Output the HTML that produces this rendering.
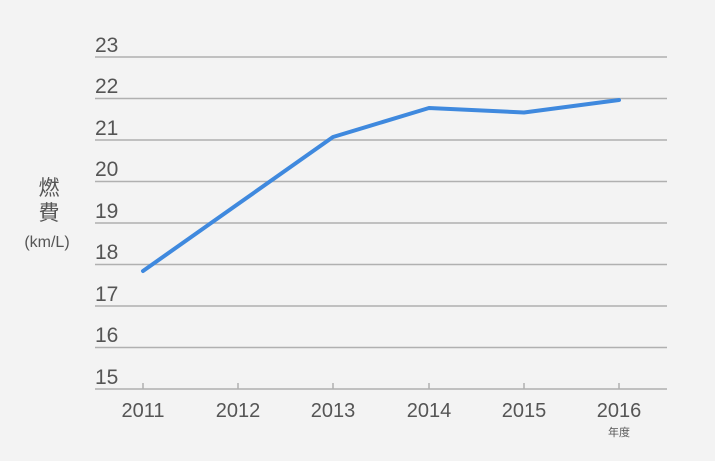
<!DOCTYPE html><html><head><style>body{margin:0;background:#f3f3f3}</style></head><body>
<svg width="715" height="461" xmlns="http://www.w3.org/2000/svg" style="display:block;background:#f3f3f3;font-family:'Liberation Sans','Noto Sans CJK JP',sans-serif">
<g stroke="#b0b0b0" stroke-width="1.5">
<line x1="95" x2="667" y1="57" y2="57"/><line x1="95" x2="667" y1="98.5" y2="98.5"/><line x1="95" x2="667" y1="140" y2="140"/><line x1="95" x2="667" y1="181.5" y2="181.5"/><line x1="95" x2="667" y1="223" y2="223"/><line x1="95" x2="667" y1="264.5" y2="264.5"/><line x1="95" x2="667" y1="306" y2="306"/><line x1="95" x2="667" y1="347.5" y2="347.5"/><line x1="95" x2="667" y1="389" y2="389"/>
<line x1="143" x2="143" y1="383" y2="389"/><line x1="238" x2="238" y1="383" y2="389"/><line x1="333" x2="333" y1="383" y2="389"/><line x1="429" x2="429" y1="383" y2="389"/><line x1="524" x2="524" y1="383" y2="389"/><line x1="619" x2="619" y1="383" y2="389"/>
</g>
<g fill="#555" font-size="21">
<text x="95" y="52">23</text><text x="95" y="93">22</text><text x="95" y="135">21</text><text x="95" y="176">20</text><text x="95" y="218">19</text><text x="95" y="259">18</text><text x="95" y="301">17</text><text x="95" y="342">16</text><text x="95" y="384">15</text>
</g>
<g fill="#555" font-size="20" text-anchor="middle">
<text x="143" y="417">2011</text><text x="238" y="417">2012</text><text x="333" y="417">2013</text><text x="429" y="417">2014</text><text x="524" y="417">2015</text><text x="619" y="417">2016</text>
<text x="619" y="436" font-size="11">年度</text>
<text x="49" y="195" font-size="21">燃</text><text x="49" y="220" font-size="21">費</text>
<text x="47" y="247" font-size="16">(km/L)</text>
</g>
<polyline points="143,271 238,204 333,137 429,108 524,112.5 619,100" fill="none" stroke="#3f89de" stroke-width="4" stroke-linecap="round" stroke-linejoin="round"/>
</svg></body></html>
